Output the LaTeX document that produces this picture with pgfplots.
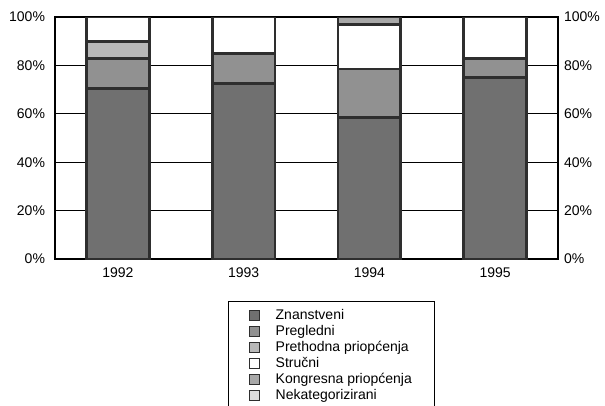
\documentclass[border=0pt]{standalone}
\usepackage{pgfplots}
\pgfplotsset{compat=1.18}
\usepackage{fontspec}
\setmainfont{Liberation Sans}
\definecolor{cZn}{gray}{0.44}
\definecolor{cPr}{gray}{0.57}
\definecolor{cPo}{gray}{0.72}
\definecolor{cSt}{gray}{1.0}
\definecolor{cKo}{gray}{0.66}
\definecolor{cNe}{gray}{0.86}
\definecolor{cEdge}{gray}{0.18}
\pgfplotsset{bst/.style={draw=cEdge, line width=2.1pt}}
\begin{document}
\begin{tikzpicture}
\begin{axis}[
  at={(0,0)}, anchor=south west,
  scale only axis, width=377.25pt, height=181.5pt,
  ybar stacked, bar width=0.5,
  xmin=-0.5, xmax=3.5, ymin=0, ymax=100,
  xtick={0,1,2,3}, xticklabels={1992,1993,1994,1995},
  ytick={0,20,40,60,80,100},
  yticklabels={0\%,20\%,40\%,60\%,80\%,100\%},
  major tick length=0pt,
  ymajorgrids, grid style={black, line width=0.6pt},
  axis line style={black, line width=0.8pt},
  ticklabel style={font=\fontsize{10.5}{12}\selectfont},
  yticklabel style={xshift=-4pt},
  xticklabel style={yshift=-3pt},
  legend cell align=left,
  legend image code/.code={\draw[#1, line width=0.7pt] (0pt,-3.6pt) rectangle (7.5pt,3.9pt);},
  legend style={at={(0.55,-0.1736)}, anchor=north, draw=black, line width=0.7pt,
    font=\fontsize{10.5}{12}\selectfont,
    inner xsep=15pt, inner ysep=4.5pt,
    nodes={text height=8pt, text depth=2.5pt, inner ysep=0.75pt},
    /tikz/every odd column/.append style={column sep=10pt}},
]
\addplot[fill=cZn, bst] coordinates {(0,70.5) (1,72.5) (2,58.5) (3,75)};
\addplot[fill=cPr, bst] coordinates {(0,12.5) (1,12.5) (2,20) (3,8)};
\addplot[fill=cPo, bst] coordinates {(0,7) (1,0) (2,0) (3,0)};
\addplot[fill=cSt, bst] coordinates {(0,10) (1,15) (2,18.5) (3,17)};
\addplot[fill=cKo, bst] coordinates {(0,0) (1,0) (2,3) (3,0)};
\addplot[fill=cNe, bst] coordinates {(0,0) (1,0) (2,0) (3,0)};
\legend{Znanstveni,Pregledni,Prethodna priopćenja,Stručni,Kongresna priopćenja,Nekategorizirani}
\end{axis}
\begin{axis}[
  at={(0,0)}, anchor=south west,
  scale only axis, width=377.25pt, height=181.5pt,
  xmin=-0.5, xmax=3.5, ymin=0, ymax=100,
  axis x line=none, axis y line*=right,
  axis line style={black, line width=0.8pt, -},
  ytick={0,20,40,60,80,100},
  yticklabels={0\%,20\%,40\%,60\%,80\%,100\%},
  major tick length=0pt,
  ticklabel style={font=\fontsize{10.5}{12}\selectfont},
  yticklabel style={xshift=1pt},
]
\end{axis}
\pgfresetboundingbox
\useasboundingbox (-41.25pt,-109.5pt) rectangle (412.5pt,194.25pt);
\end{tikzpicture}
\end{document}
